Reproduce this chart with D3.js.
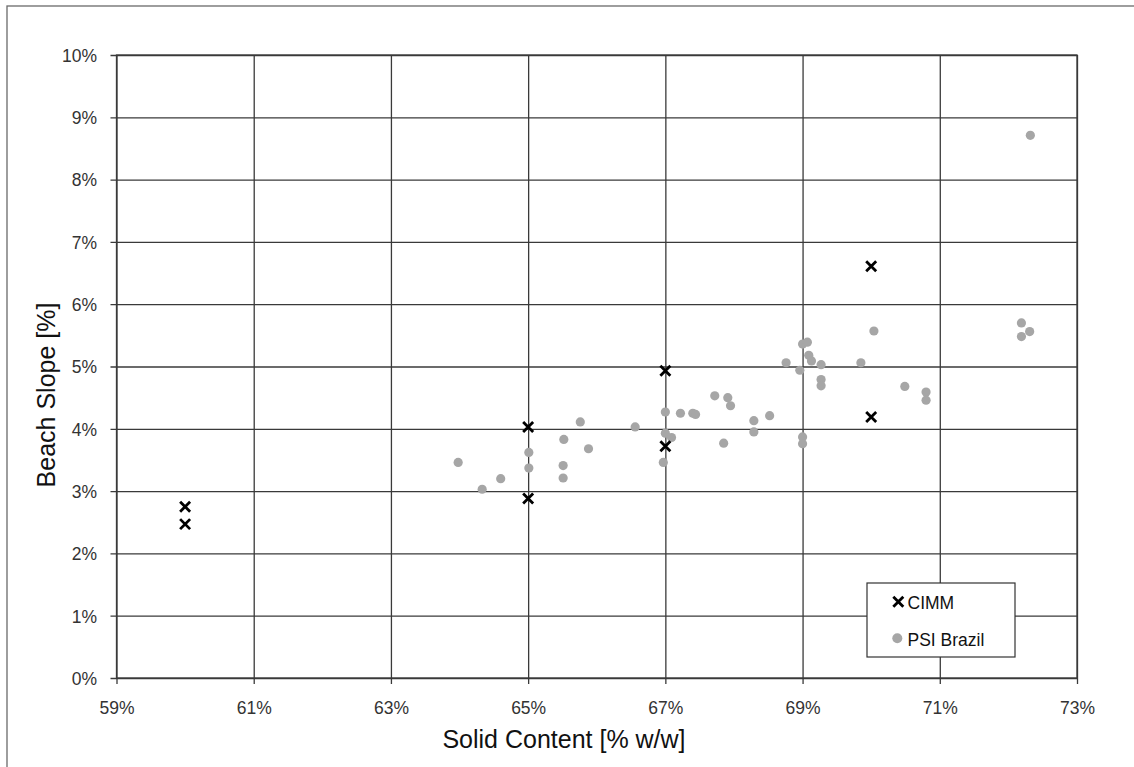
<!DOCTYPE html>
<html>
<head>
<meta charset="utf-8">
<script src="https://cdn.jsdelivr.net/npm/d3@7"></script>
<style>
  html, body { margin: 0; padding: 0; background: #fff; }
  svg { display: block; }
  text { font-family: "Liberation Sans", Arial, sans-serif; }
</style>
</head>
<body>
<svg id="chart" width="1134" height="767"></svg>
<script>
// Solid content [% w/w] vs beach slope [%]
const xTicks = [59, 61, 63, 65, 67, 69, 71, 73];
const yTicks = [0, 1, 2, 3, 4, 5, 6, 7, 8, 9, 10];

const cimmSolid = [60, 60, 65, 65, 67, 67, 70, 70];
const cimmSlope = [2.75, 2.47, 4.03, 2.88, 4.93, 3.72, 6.61, 4.19];

const psiSolid = [63.98, 64.33, 64.60, 65.01, 65.01, 65.52, 65.51, 65.51, 65.76, 65.88,
                  66.56, 66.97, 67.00, 67.00, 67.09, 67.22, 67.40, 67.44, 67.72, 67.91,
                  67.95, 67.85, 68.29, 68.29, 68.52, 68.76, 68.96, 69.00, 69.07, 69.09,
                  69.13, 69.27, 69.27, 69.27, 69.00, 69.00, 69.85, 70.04, 70.49, 70.80,
                  70.80, 72.19, 72.31, 72.19, 72.32];
const psiSlope = [3.46, 3.03, 3.20, 3.62, 3.37, 3.83, 3.41, 3.21, 4.11, 3.68,
                  4.03, 3.46, 4.27, 3.93, 3.86, 4.25, 4.25, 4.23, 4.53, 4.50,
                  4.37, 3.77, 4.13, 3.95, 4.21, 5.06, 4.94, 5.36, 5.39, 5.18,
                  5.09, 5.03, 4.79, 4.69, 3.87, 3.76, 5.06, 5.57, 4.68, 4.59,
                  4.46, 5.70, 5.56, 5.48, 8.71];

const svg = d3.select("#chart");
const plot = { left: 116.5, right: 1077, top: 55, bottom: 678 };
const gridColor = "#3a3a3a";

// chart frame
svg.append("rect")
  .attr("x", 7).attr("y", 6).attr("width", 1200).attr("height", 1000)
  .attr("fill", "#fff").attr("stroke", "#6a6a6a").attr("stroke-width", 1.3);

const x = d3.scaleLinear().domain([59, 73]).range([plot.left, plot.right]);
const y = d3.scaleLinear().domain([0, 10]).range([plot.bottom, plot.top]);
const fmt = d => d + "%";

// vertical grid + bottom ticks
const xAxis = svg.append("g")
  .attr("transform", `translate(0,${plot.bottom})`)
  .call(d3.axisBottom(x).tickValues(xTicks).tickFormat(fmt)
        .tickSizeInner(-(plot.bottom - plot.top)).tickSizeOuter(0).tickPadding(0));
xAxis.select(".domain").remove();
xAxis.selectAll(".tick line").attr("stroke", gridColor).attr("stroke-width", 1.3)
  .attr("y1", 6);
xAxis.selectAll(".tick text").remove();
xAxis.selectAll(".tick").append("text")
  .attr("y", 35.5).attr("text-anchor", "middle")
  .attr("fill", "#333").attr("font-size", 17.5)
  .text(fmt);

// horizontal grid + left ticks
const yAxis = svg.append("g")
  .attr("transform", `translate(${plot.left},0)`)
  .call(d3.axisLeft(y).tickValues(yTicks).tickFormat(fmt)
        .tickSizeInner(-(plot.right - plot.left)).tickSizeOuter(0));
yAxis.select(".domain").remove();
yAxis.selectAll(".tick line").attr("stroke", gridColor).attr("stroke-width", 1.3)
  .attr("x1", -6);
yAxis.selectAll(".tick text").remove();
yAxis.selectAll(".tick").append("text")
  .attr("x", -19.5).attr("y", 6.3).attr("text-anchor", "end")
  .attr("fill", "#333").attr("font-size", 17.5)
  .text(fmt);

// plot border
svg.append("rect")
  .attr("x", plot.left).attr("y", plot.top)
  .attr("width", plot.right - plot.left).attr("height", plot.bottom - plot.top)
  .attr("fill", "none").attr("stroke", gridColor).attr("stroke-width", 1.3);

// PSI Brazil points
const psi = psiSolid.map((s, i) => ({ s, v: psiSlope[i] }));
svg.append("g").selectAll("circle").data(psi).join("circle")
  .attr("cx", d => x(d.s)).attr("cy", d => y(d.v)).attr("r", 4.6)
  .attr("fill", "#a6a6a6");

// CIMM crosses
const cross = (g, cx, cy, h) => {
  g.append("path")
    .attr("d", `M${cx - h},${cy - h}L${cx + h},${cy + h}M${cx - h},${cy + h}L${cx + h},${cy - h}`)
    .attr("stroke", "#000").attr("stroke-width", 2.8).attr("fill", "none");
};
const cimmG = svg.append("g");
cimmSolid.forEach((s, i) => cross(cimmG, x(s), y(cimmSlope[i]), 5));

// axis titles
svg.append("text")
  .attr("x", 564).attr("y", 748).attr("text-anchor", "middle")
  .attr("font-size", 25).attr("fill", "#111")
  .text("Solid Content [% w/w]");
svg.append("text")
  .attr("transform", "translate(55,395) rotate(-90)")
  .attr("text-anchor", "middle")
  .attr("font-size", 25).attr("fill", "#111")
  .text("Beach Slope [%]");

// legend
const lg = svg.append("g");
lg.append("rect")
  .attr("x", 867).attr("y", 583).attr("width", 148).attr("height", 74)
  .attr("fill", "#fff").attr("stroke", "#333").attr("stroke-width", 1.2);
cross(lg, 898.3, 601.7, 5);
lg.append("text").attr("x", 907.5).attr("y", 609.3)
  .attr("font-size", 17.5).attr("fill", "#111").text("CIMM");
lg.append("circle").attr("cx", 897.3).attr("cy", 638.3).attr("r", 5).attr("fill", "#a6a6a6");
lg.append("text").attr("x", 907.5).attr("y", 645.5)
  .attr("font-size", 17.5).attr("fill", "#111").text("PSI Brazil");
</script>
</body>
</html>
